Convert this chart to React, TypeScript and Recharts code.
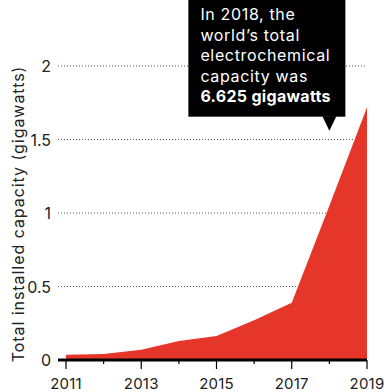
import { AreaChart, Area, XAxis, YAxis, CartesianGrid, ReferenceDot } from "recharts";

const years = [2011, 2012, 2013, 2014, 2015, 2016, 2017, 2018, 2019];
const capacity = [0.035, 0.04, 0.07, 0.13, 0.163, 0.27, 0.39, 1.05, 1.72];
const yTicks = [0, 0.5, 1, 1.5, 2];
const labelledYears = [2011, 2013, 2015, 2017, 2019];
const noteLines = ["In 2018, the", "world\u2019s total", "electrochemical", "capacity was"];
const noteBold = "6.625 gigawatts";

const data = years.map((year, i) => ({ year, capacity: capacity[i] }));

const FONT = "Inter, 'Noto Sans', sans-serif";
const RED = "#e6362a";

function XTick({ x, y, payload }: any) {
  const major = labelledYears.includes(payload.value);
  return (
    <g>
      <line x1={x} x2={x} y1={y} y2={y + (major ? 9 : 4)} stroke="#000" strokeWidth={1.2} />
      {major && (
        <text x={x} y={y + 29} textAnchor="middle" fontSize={15} letterSpacing={0.2} fill="#222" fontFamily={FONT}>
          {payload.value}
        </text>
      )}
    </g>
  );
}

function YTick({ y, payload }: any) {
  return (
    <text x={51} y={y} textAnchor="end" dominantBaseline="central" fontSize={16} fill="#222" fontFamily={FONT}>
      {payload.value}
    </text>
  );
}

function Note({ cx, cy }: any) {
  const bottom = cy - 14;
  return (
    <g>
      <rect x={cx - 141} y={-6} width={157} height={bottom + 6} fill="#000" />
      <polygon points={`${cx - 7},${bottom - 0.5} ${cx + 7},${bottom - 0.5} ${cx},${cy}`} fill="#000" />
      {noteLines.map((t, i) => (
        <text
          key={t}
          x={cx - 129}
          y={bottom - 14.5 - (4 - i) * 20.5}
          fontSize={16}
          letterSpacing={0.65}
          fill="#fff"
          fontFamily={FONT}
        >
          {t}
        </text>
      ))}
      <text x={cx - 129} y={bottom - 14.5} fontSize={16} letterSpacing={0.3} fontWeight={700} fill="#fff" fontFamily={FONT}>
        {noteBold}
      </text>
    </g>
  );
}

export default function App() {
  return (
    <div style={{ position: "absolute", left: 0, top: 0, width: 384, height: 392, background: "#fff" }}>
      <svg width={384} height={392} style={{ position: "absolute", left: 0, top: 0 }}>
        <text x={10} y={-4} fontSize={17} letterSpacing={0.8} fill="#222" fontFamily={FONT}>
          Battery capacity
        </text>
      </svg>
      <AreaChart
        width={384}
        height={392}
        data={data}
        margin={{ top: 66, right: 17, bottom: 0, left: 0 }}
        style={{ position: "absolute", left: 0, top: 0 }}
      >
        <CartesianGrid vertical={false} stroke="#555" strokeDasharray="1 2" />
        <Area
          type="linear"
          dataKey="capacity"
          stroke="none"
          fill={RED}
          fillOpacity={1}
          isAnimationActive={false}
        />
        <XAxis
          dataKey="year"
          type="number"
          domain={[2011, 2019]}
          ticks={years}
          interval={0}
          padding={{ left: 8, right: 0 }}
          height={32}
          axisLine={{ stroke: "#000", strokeWidth: 3 }}
          tickLine={false}
          tickSize={0}
          tickMargin={0}
          tick={<XTick />}
        />
        <YAxis
          domain={[0, 2]}
          ticks={yTicks}
          width={58}
          axisLine={false}
          tickLine={false}
          tick={<YTick />}
          label={({ viewBox }: any) => (
            <text
              transform={`translate(23.5, ${viewBox.y + viewBox.height / 2 + 1}) rotate(-90)`}
              textAnchor="middle"
              fontSize={16}
              letterSpacing={0.95}
              fill="#222"
              fontFamily={FONT}
            >
              Total installed capacity (gigawatts)
            </text>
          )}
        />
        <ReferenceDot x={2018} y={1.56} r={0} shape={<Note />} />
      </AreaChart>
    </div>
  );
}
